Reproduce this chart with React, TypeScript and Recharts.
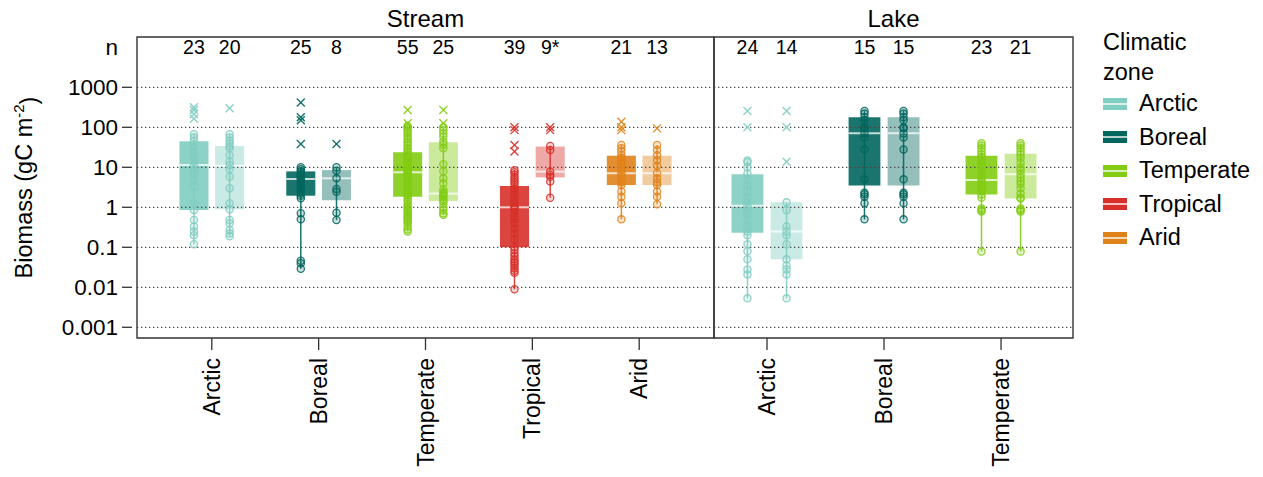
import React from 'react';
import { ComposedChart, XAxis, YAxis, Scatter, ReferenceArea, ReferenceLine, Legend } from 'recharts';

const FONT = '"Liberation Sans", Arial, Helvetica, sans-serif';

// ---------- data ----------
const zones = ['Arctic', 'Boreal', 'Temperate', 'Tropical', 'Arid'];
const zoneColors = ['#80CDC1', '#01665E', '#82CC12', '#D7302A', '#E0821A'];

const yTicks = [0.001, 0.01, 0.1, 1, 10, 100, 1000, 10000];
const gridValues = [0.001, 0.01, 0.1, 1, 10, 100, 1000];

const streamCategories = ['Arctic', 'Boreal', 'Temperate', 'Tropical', 'Arid'];
const streamN = [['23', '20'], ['25', '8'], ['55', '25'], ['39', '9*'], ['21', '13']];
const streamQ1 = [[0.85, 0.89], [1.95, 1.5], [1.84, 1.44], [0.1, 5.6], [3.6, 3.6]];
const streamMedian = [[11.4, 11], [5.1, 5.3], [7.5, 2.2], [1.0, 7.8], [7.1, 7.1]];
const streamQ3 = [[45, 34], [7.9, 8.5], [23.7, 42], [3.4, 33], [19.5, 19.5]];
const streamWhiskerLow = [[0.12, 0.19], [0.029, 0.48], [0.25, 0.65], [0.0089, 1.73], [0.5, 1.2]];
const streamWhiskerHigh = [[67, 67], [10, 10], [110, 100], [8.5, 34], [36, 36]];
const streamPoints = [
  [
    [67, 56, 45, 32, 24, 18, 14, 11.4, 9, 7, 5, 3.2, 1.26, 0.85, 0.48, 0.33, 0.25, 0.2, 0.12],
    [67, 56, 46, 40, 34, 30, 20, 14, 11.4, 8.9, 5.8, 3, 1.26, 0.89, 0.48, 0.4, 0.27, 0.22, 0.19],
  ],
  [
    [10, 9, 8, 7.5, 6.5, 6, 5.5, 5.1, 4.5, 4, 3.5, 3, 2.6, 2.2, 1.95, 1.68, 0.71, 0.5, 0.046, 0.04, 0.029],
    [10, 8.2, 5.3, 2.87, 2.45, 0.73, 0.48],
  ],
  [
    [110, 100, 90, 80, 70, 60, 52, 45, 40, 35, 30, 27, 24, 21, 19, 17, 15, 13, 12, 11, 10, 9, 8.2, 7.5, 7, 6.3, 5.6,
      5, 4.4, 4, 3.5, 3.1, 2.8, 2.5, 2.2, 2, 1.84, 1.6, 1.4, 1.2, 1.05, 0.95, 0.85, 0.75, 0.68, 0.6, 0.55, 0.5, 0.45,
      0.4, 0.33, 0.28, 0.25],
    [100, 85, 70, 58, 44, 37, 30, 12, 8, 5.3, 4, 2.8, 2.4, 2.2, 2.0, 1.84, 1.6, 1.44, 1.26, 1.0, 0.85, 0.71, 0.65],
  ],
  [
    [8.5, 7.5, 6.5, 5.5, 4.8, 4.2, 3.6, 3, 2.5, 2.1, 1.8, 1.5, 1.3, 1.1, 1.0, 0.9, 0.75, 0.6, 0.5, 0.4, 0.3, 0.22,
      0.16, 0.1, 0.085, 0.07, 0.06, 0.05, 0.045, 0.04, 0.035, 0.03, 0.026, 0.023, 0.0089],
    [34, 27, 7.8, 6.5, 5.8, 4.4, 1.73],
  ],
  [
    [36, 30, 25, 20, 17, 14, 12, 10, 8.5, 7.1, 6, 5, 4.2, 3.6, 2.5, 1.84, 1.26, 0.5],
    [36, 27, 20, 15, 11, 7.1, 5.3, 4.2, 3.6, 2.5, 1.84, 1.2],
  ],
];
const streamOutliers = [
  [[316, 270, 215, 163], [300]],
  [[415, 178, 151, 38], [38]],
  [[270, 126], [270, 126]],
  [[100, 85, 36, 25], [100, 85]],
  [[138, 100, 85], [94]],
];

const lakeCategories = ['Arctic', 'Boreal', 'Temperate'];
const lakeN = [['24', '14'], ['15', '15'], ['23', '21']];
const lakeQ1 = [[0.23, 0.05], [3.5, 3.5], [2.1, 1.67]];
const lakeMedian = [[1.1, 0.25], [71, 71], [4.8, 6.7]];
const lakeQ3 = [[6.7, 1.33], [178, 178], [19.5, 21.8]];
const lakeWhiskerLow = [[0.0053, 0.0053], [0.5, 0.5], [0.078, 0.078]];
const lakeWhiskerHigh = [[14.7, 1.33], [255, 255], [40, 40]];
const lakePoints = [
  [
    [14.7, 13.3, 10, 7, 5, 3.5, 2.5, 1.8, 1.4, 1.1, 0.9, 0.7, 0.5, 0.35, 0.25, 0.2, 0.12, 0.08, 0.05, 0.028, 0.021, 0.0053],
    [1.33, 0.85, 0.33, 0.25, 0.2, 0.12, 0.05, 0.035, 0.028, 0.021, 0.0053],
  ],
  [
    [255, 220, 178, 150, 100, 94, 70, 56, 28, 5, 2.3, 2.1, 1.84, 1.26, 0.5],
    [255, 220, 178, 150, 100, 94, 70, 56, 28, 5, 2.3, 2.1, 1.84, 1.26, 0.5],
  ],
  [
    [40, 35, 30, 25, 21, 18, 15, 12, 10, 8, 6.5, 5.5, 4.8, 4, 3.3, 3, 2.7, 2.1, 1.73, 0.94, 0.85, 0.78, 0.078],
    [40, 35, 30, 25, 21, 17, 13, 10, 8.5, 6.7, 5.5, 4.5, 3.8, 3, 2.2, 1.73, 1.67, 0.94, 0.85, 0.78, 0.078],
  ],
];
const lakeOutliers = [
  [[255, 100], [255, 100, 13.8]],
  [[], []],
  [[], []],
];

// ---------- layout constants ----------
const Y_DOMAIN = [0.00054, 18100];
const OFFSET = 0.167;
const HALF = 0.136;
const BOX_OPACITY = [0.9, 0.42];

function buildPanel(cats, n, q1, med, q3, wl, wh, pts, outs) {
  const boxes: any[] = [];
  const points: any[] = [];
  const outliers: any[] = [];
  const labels: any[] = [];
  cats.forEach((cat, i) => {
    const color = zoneColors[zones.indexOf(cat)];
    [0, 1].forEach((j) => {
      const xc = i + 1 + (j === 0 ? -OFFSET : OFFSET);
      boxes.push({
        key: `${cat}-${j}`, xc, x1: xc - HALF, x2: xc + HALF,
        q1: q1[i][j], med: med[i][j], q3: q3[i][j], wl: wl[i][j], wh: wh[i][j],
        color, opacity: BOX_OPACITY[j],
      });
      pts[i][j].forEach((v) => points.push({ x: xc, y: v, color }));
      outs[i][j].forEach((v) => outliers.push({ x: xc, y: v, color }));
      labels.push({ x: xc, y: 10000, label: n[i][j] });
    });
  });
  return { boxes, points, outliers, labels };
}

const stream = buildPanel(streamCategories, streamN, streamQ1, streamMedian, streamQ3,
  streamWhiskerLow, streamWhiskerHigh, streamPoints, streamOutliers);
const lake = buildPanel(lakeCategories, lakeN, lakeQ1, lakeMedian, lakeQ3,
  lakeWhiskerLow, lakeWhiskerHigh, lakePoints, lakeOutliers);

// ---------- shapes ----------
const CircleShape = (props: any) => {
  const { cx, cy, payload } = props;
  if (cx == null || cy == null) return null;
  return (
    <circle cx={cx} cy={cy} r={3.6} fill={payload.color} fillOpacity={0.2}
      stroke={payload.color} strokeOpacity={0.85} strokeWidth={1.3} />
  );
};

const CrossShape = (props: any) => {
  const { cx, cy, payload } = props;
  if (cx == null || cy == null) return null;
  const s = 4;
  return (
    <g stroke={payload.color} strokeWidth={1.4} strokeOpacity={0.9}>
      <line x1={cx - s} y1={cy - s} x2={cx + s} y2={cy + s} />
      <line x1={cx - s} y1={cy + s} x2={cx + s} y2={cy - s} />
    </g>
  );
};

const NLabelShape = (props: any) => {
  const { cx, cy, payload } = props;
  if (cx == null || cy == null) return null;
  return (
    <text x={cx} y={cy} dy="0.35em" textAnchor="middle" fontSize={19.5} fill="#000" fontFamily={FONT}>
      {payload.label}
    </text>
  );
};

const makeXTick = (cats: string[]) => (props: any) => {
  const { x, y, payload } = props;
  return (
    <text x={x} y={y} transform={`rotate(-90 ${x} ${y})`} textAnchor="end" dy="0.35em"
      fontSize={23} fill="#000" fontFamily={FONT}>
      {cats[payload.value - 1]}
    </text>
  );
};

const YTick = (props: any) => {
  const { x, y, payload } = props;
  const isN = payload.value === 10000;
  return (
    <g>
      {!isN && <line x1={x + 4} x2={x + 14} y1={y} y2={y} stroke="#333" strokeWidth={1.3} />}
      <text x={x} y={y} dy="0.35em" textAnchor="end" fontSize={22.5} fill="#000" fontFamily={FONT}>
        {isN ? 'n' : String(payload.value)}
      </text>
    </g>
  );
};

const YLabel = (props: any) => {
  const { viewBox } = props;
  const cx = viewBox.x + 24;
  const cy = viewBox.y + viewBox.height / 2;
  return (
    <text x={cx} y={cy} transform={`rotate(-90 ${cx} ${cy})`} textAnchor="middle" dy="0.35em"
      fontSize={23.5} fill="#000" fontFamily={FONT}>
      Biomass (gC m<tspan dy="-0.55em" fontSize={15}>-2</tspan><tspan dy="0.55em">)</tspan>
    </text>
  );
};

const LegendContent = () => (
  <div style={{ fontFamily: FONT, fontSize: 23.5, color: '#000' }}>
    <div style={{ lineHeight: '30px' }}>Climatic<br />zone</div>
    {zones.map((z, i) => (
      <div key={z} style={{ display: 'flex', alignItems: 'center', height: 33.5 }}>
        <div style={{ position: 'relative', width: 24, height: 12, background: zoneColors[i], marginRight: 12, flex: 'none' }}>
          <div style={{ position: 'absolute', left: 0, right: 0, top: 5, height: 2, background: 'rgba(255,255,255,0.7)' }} />
        </div>
        <span style={{ whiteSpace: 'nowrap' }}>{z}</span>
      </div>
    ))}
  </div>
);

function renderPanelContent(panel: any, xDomain: number[], title: string) {
  return [
    ...gridValues.map((v) => (
      <ReferenceLine key={`g${v}`} y={v} stroke="#444" strokeWidth={1.3} strokeDasharray="1.3 2.7" ifOverflow="visible" />
    )),
    ...panel.boxes.map((b: any) => (
      <ReferenceArea key={`b${b.key}`} x1={b.x1} x2={b.x2} y1={b.q1} y2={b.q3} fill={b.color}
        fillOpacity={b.opacity} stroke="none" ifOverflow="visible" />
    )),
    ...panel.boxes.map((b: any) => (
      <ReferenceLine key={`w${b.key}`} segment={[{ x: b.xc, y: b.wl }, { x: b.xc, y: b.wh }]}
        stroke={b.color} strokeWidth={1.5} strokeOpacity={0.9} ifOverflow="visible" />
    )),
    <Scatter key="pts" data={panel.points} dataKey="y" shape={CircleShape} isAnimationActive={false} />,
    <Scatter key="outs" data={panel.outliers} dataKey="y" shape={CrossShape} isAnimationActive={false} />,
    <Scatter key="ns" data={panel.labels} dataKey="y" shape={NLabelShape} isAnimationActive={false} />,
    ...panel.boxes.map((b: any) => (
      <ReferenceLine key={`m${b.key}`} segment={[{ x: b.x1, y: b.med }, { x: b.x2, y: b.med }]}
        stroke="#fff" strokeWidth={2} strokeOpacity={0.75} ifOverflow="visible" />
    )),
    <ReferenceArea key="border" x1={xDomain[0]} x2={xDomain[1]} y1={Y_DOMAIN[0]} y2={Y_DOMAIN[1]}
      fill="none" stroke="#333" strokeWidth={1.4} ifOverflow="visible"
      label={{ value: title, position: 'top', offset: 10, fontSize: 24, fill: '#000', fontFamily: FONT }} />,
  ];
}

const STREAM_X = [0.3, 5.7];
const LAKE_X = [0.547, 3.615];

export default function App() {
  return (
    <div style={{ position: 'absolute', left: 0, top: 0, width: 1263, height: 477, background: '#fff', fontFamily: FONT }}>
      <div style={{ position: 'absolute', left: 0, top: 0 }}>
        <ComposedChart width={730} height={477} margin={{ top: 37, right: 16, bottom: 0, left: 0 }}>
          <XAxis type="number" dataKey="x" domain={STREAM_X} allowDataOverflow ticks={[1, 2, 3, 4, 5]}
            height={139} axisLine={false} tickSize={12} tickMargin={8} interval={0}
            tickLine={{ stroke: '#333', strokeWidth: 1.3 }} tick={makeXTick(streamCategories)} />
          <YAxis type="number" dataKey="y" scale="log" domain={Y_DOMAIN} allowDataOverflow ticks={yTicks}
            width={137} axisLine={false} tickLine={false} tickSize={0} tickMargin={19} interval={0}
            tick={YTick} label={<YLabel />} />
          {renderPanelContent(stream, STREAM_X, 'Stream')}
        </ComposedChart>
      </div>
      <div style={{ position: 'absolute', left: 700, top: 0 }}>
        <ComposedChart width={563} height={477} margin={{ top: 37, right: 190, bottom: 0, left: 14 }}>
          <XAxis type="number" dataKey="x" domain={LAKE_X} allowDataOverflow ticks={[1, 2, 3]}
            height={139} axisLine={false} tickSize={12} tickMargin={8} interval={0}
            tickLine={{ stroke: '#333', strokeWidth: 1.3 }} tick={makeXTick(lakeCategories)} />
          <YAxis type="number" dataKey="y" scale="log" domain={Y_DOMAIN} allowDataOverflow hide width={0} />
          {renderPanelContent(lake, LAKE_X, 'Lake')}
          <Legend layout="vertical" align="center" verticalAlign="middle" content={LegendContent}
            wrapperStyle={{ left: 403, top: 27, width: 162 }} />
        </ComposedChart>
      </div>
    </div>
  );
}
